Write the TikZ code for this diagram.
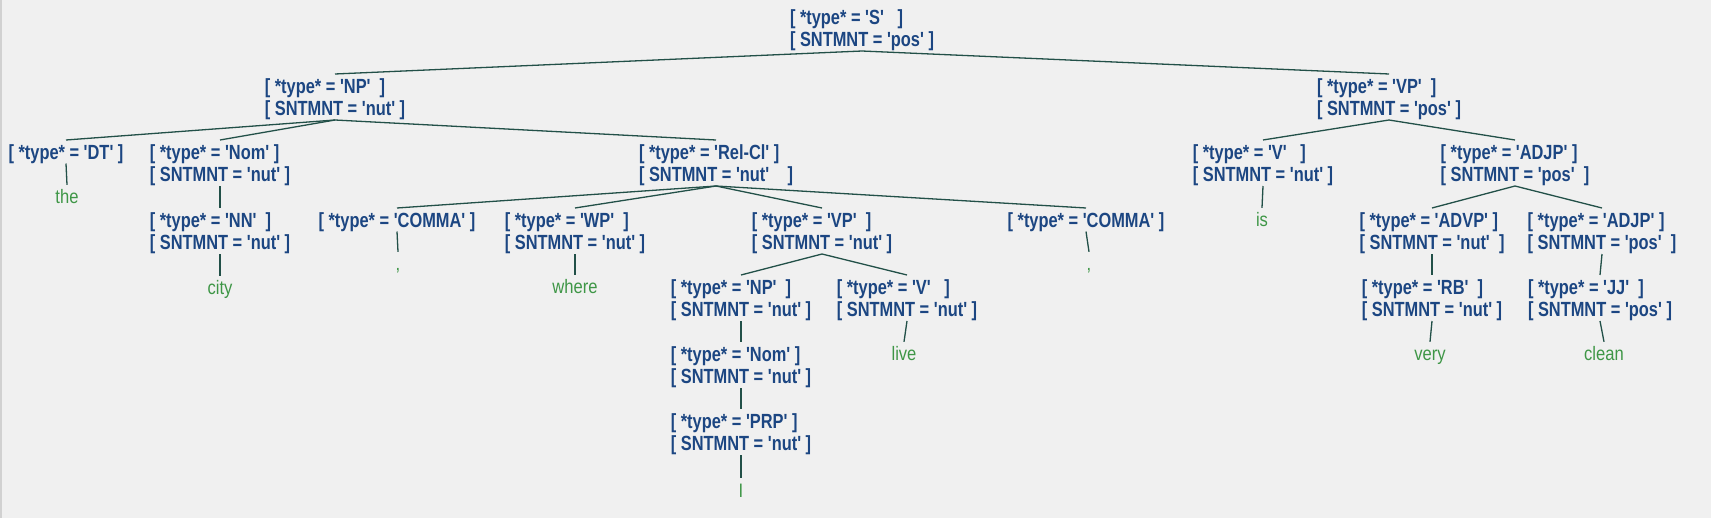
\documentclass[tikz,border=0pt]{standalone}
\usepackage{fontspec}
\usepackage{tikz}
\newfontfamily\tagfont{Liberation Sans}[FakeStretch=0.8,Ligatures=TeXOff]
\newfontfamily\wordfont{Liberation Sans}[FakeStretch=0.85,Ligatures=TeXOff]
\definecolor{tagblue}{RGB}{28,70,130}
\definecolor{branchgreen}{RGB}{34,80,72}
\definecolor{wordgreen}{RGB}{62,150,70}
\definecolor{panel}{RGB}{240,240,240}
\tikzset{
	tag/.style={anchor=north, inner sep=0pt, align=left, text=tagblue, font=\tagfont\bfseries\fontsize{20.5}{22.5}\selectfont},
	word/.style={inner sep=0pt, text=wordgreen, text height=14pt, text depth=4pt, font=\wordfont\fontsize{19.5}{22.5}\selectfont},
	branch/.style={draw=branchgreen, line width=1.3pt},
}
\begin{document}
\begin{tikzpicture}[x=1pt,y=-1pt]
		\fill[panel] (0,0) rectangle (1711,518);
		\useasboundingbox (0,0) rectangle (1711,518);
		\draw[black!18, line width=1.5pt] (0.75,0) -- (0.75,518);
		% tag nodes
		\node[tag] (s) at (862,9) {[ *type* = 'S'\ \ \ ]\\{}[ SNTMNT = 'pos' ]};
		\node[tag] (np) at (335,78) {[ *type* = 'NP'\ \ ]\\{}[ SNTMNT = 'nut' ]};
		\node[tag] (vp) at (1389,78) {[ *type* = 'VP'\ \ ]\\{}[ SNTMNT = 'pos' ]};
		\node[tag] (dt) at (66,144) {[ *type* = 'DT' ]};
		\node[tag] (nom) at (220,144) {[ *type* = 'Nom' ]\\{}[ SNTMNT = 'nut' ]};
		\node[tag] (relcl) at (716,144) {[ *type* = 'Rel-Cl' ]\\{}[ SNTMNT = 'nut'\ \ \ \ ]};
		\node[tag] (v) at (1263,144) {[ *type* = 'V'\ \ \ ]\\{}[ SNTMNT = 'nut' ]};
		\node[tag] (adjp) at (1515,144) {[ *type* = 'ADJP' ]\\{}[ SNTMNT = 'pos'\ \ ]};
		\node[tag] (nn) at (220,212) {[ *type* = 'NN'\ \ ]\\{}[ SNTMNT = 'nut' ]};
		\node[tag] (comma) at (397,212) {[ *type* = 'COMMA' ]};
		\node[tag] (wp) at (575,212) {[ *type* = 'WP'\ \ ]\\{}[ SNTMNT = 'nut' ]};
		\node[tag] (vprel) at (822,212) {[ *type* = 'VP'\ \ ]\\{}[ SNTMNT = 'nut' ]};
		\node[tag] (commaend) at (1086,212) {[ *type* = 'COMMA' ]};
		\node[tag] (advp) at (1432,212) {[ *type* = 'ADVP' ]\\{}[ SNTMNT = 'nut'\ \ ]};
		\node[tag] (adjpin) at (1602,212) {[ *type* = 'ADJP' ]\\{}[ SNTMNT = 'pos'\ \ ]};
		\node[tag] (nprel) at (741,279) {[ *type* = 'NP'\ \ ]\\{}[ SNTMNT = 'nut' ]};
		\node[tag] (vrel) at (907,279) {[ *type* = 'V'\ \ \ ]\\{}[ SNTMNT = 'nut' ]};
		\node[tag] (rb) at (1432,279) {[ *type* = 'RB'\ \ ]\\{}[ SNTMNT = 'nut' ]};
		\node[tag] (jj) at (1600,279) {[ *type* = 'JJ'\ \ ]\\{}[ SNTMNT = 'pos' ]};
		\node[tag] (nomrel) at (741,346) {[ *type* = 'Nom' ]\\{}[ SNTMNT = 'nut' ]};
		\node[tag] (prp) at (741,413) {[ *type* = 'PRP' ]\\{}[ SNTMNT = 'nut' ]};
		% words
		\node[word] (the) at (67,199) {the};
		\node[word] (city) at (220,290) {city};
		\node[word] (commaword) at (398,266) {,};
		\node[word] (where) at (575,289) {where};
		\node[word] (commaendword) at (1089,266) {,};
		\node[word] (live) at (904,356) {live};
		\node[word] (i) at (741,492) {I};
		\node[word] (is) at (1262,222) {is};
		\node[word] (very) at (1430,356) {very};
		\node[word] (clean) at (1604,356) {clean};
		% branches
		\draw[branch] (s.south) -- ([yshift=4pt]np.north);
		\draw[branch] (s.south) -- ([yshift=4pt]vp.north);
		\draw[branch] (np.south) -- ([yshift=4pt]dt.north);
		\draw[branch] (np.south) -- ([yshift=4pt]nom.north);
		\draw[branch] (np.south) -- ([yshift=4pt]relcl.north);
		\draw[branch] (nom.south) -- ([yshift=4pt]nn.north);
		\draw[branch] (relcl.south) -- ([yshift=4pt]comma.north);
		\draw[branch] (relcl.south) -- ([yshift=4pt]wp.north);
		\draw[branch] (relcl.south) -- ([yshift=4pt]vprel.north);
		\draw[branch] (relcl.south) -- ([yshift=4pt]commaend.north);
		\draw[branch] (vprel.south) -- ([yshift=4pt]nprel.north);
		\draw[branch] (vprel.south) -- ([yshift=4pt]vrel.north);
		\draw[branch] (nprel.south) -- ([yshift=4pt]nomrel.north);
		\draw[branch] (nomrel.south) -- ([yshift=4pt]prp.north);
		\draw[branch] (vp.south) -- ([yshift=4pt]v.north);
		\draw[branch] (vp.south) -- ([yshift=4pt]adjp.north);
		\draw[branch] (adjp.south) -- ([yshift=4pt]advp.north);
		\draw[branch] (adjp.south) -- ([yshift=4pt]adjpin.north);
		\draw[branch] (advp.south) -- ([yshift=4pt]rb.north);
		\draw[branch] (adjpin.south) -- ([yshift=4pt]jj.north);
		% leaves
		\draw[branch] (dt.south) -- ([yshift=5pt]the.north);
		\draw[branch] (nn.south) -- ([yshift=5pt]city.north);
		\draw[branch] (comma.south) -- ([yshift=5pt]commaword.north);
		\draw[branch] (wp.south) -- ([yshift=5pt]where.north);
		\draw[branch] (commaend.south) -- ([yshift=5pt]commaendword.north);
		\draw[branch] (vrel.south) -- ([yshift=5pt]live.north);
		\draw[branch] (prp.south) -- ([yshift=5pt]i.north);
		\draw[branch] (v.south) -- ([yshift=5pt]is.north);
		\draw[branch] (rb.south) -- ([yshift=5pt]very.north);
		\draw[branch] (jj.south) -- ([yshift=5pt]clean.north);
\end{tikzpicture}
\end{document}
